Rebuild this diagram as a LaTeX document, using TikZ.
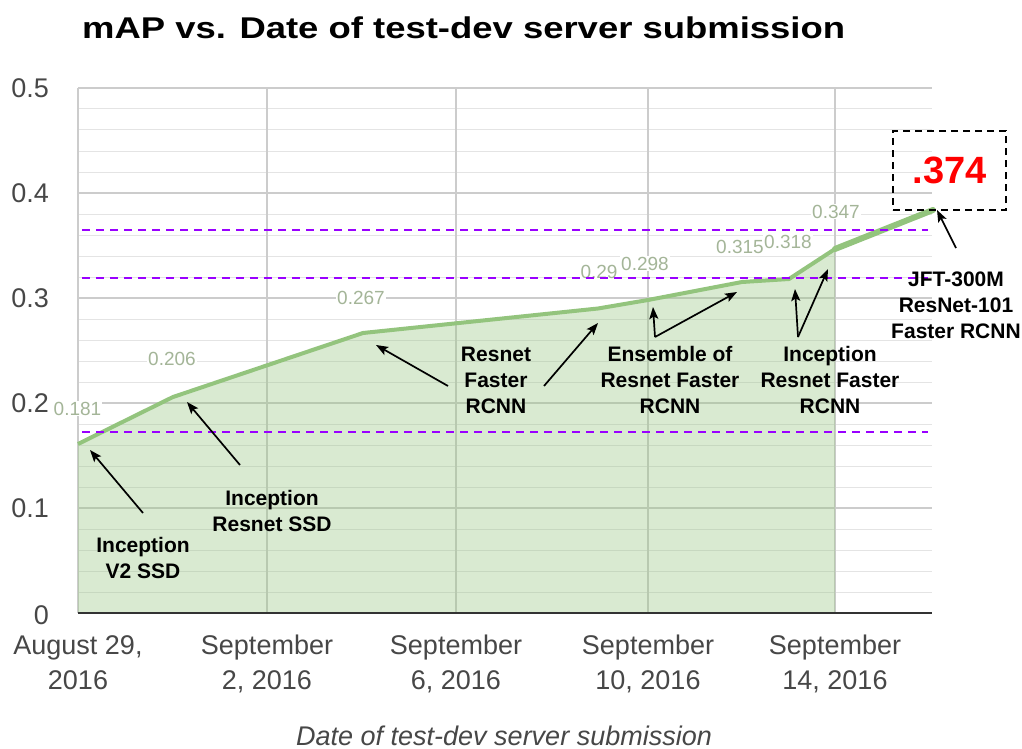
\documentclass[tikz,border=0pt]{standalone}
\usepackage{fontspec}
\setmainfont{Liberation Sans}
\newfontfamily\titlefont[FakeStretch=1.215]{Liberation Sans}
\usetikzlibrary{arrows.meta}

\definecolor{gridmajor}{HTML}{CCCCCC}
\definecolor{gridminor}{HTML}{E4E4E4}
\definecolor{series}{HTML}{93C47D}
\definecolor{valtext}{RGB}{164,181,152}
\definecolor{axistext}{HTML}{474747}
\definecolor{axisline}{HTML}{333333}
\definecolor{guide}{HTML}{9900FF}
\definecolor{bestred}{HTML}{FF0000}

\tikzset{
  vallabel/.style={font=\fontsize{19}{22}\selectfont, text=valtext, fill=white, inner sep=1pt},
  ticklabel/.style={font=\fontsize{27}{35}\selectfont, text=axistext, inner sep=0pt, align=center},
  guideline/.style={guide, line width=1.8pt, dash pattern=on 8pt off 6pt},
  note/.style={font=\bfseries\fontsize{21}{26}\selectfont, align=center, inner sep=0pt},
  conn/.style={-{Stealth[length=12pt,width=9pt,inset=2.5pt]}, line width=1.7pt, black},
}

\begin{document}
\begin{tikzpicture}[x=1pt,y=-1pt]
\useasboundingbox[fill=white] (0,0) rectangle (1022,749);

% title
\node[anchor=base west, inner sep=0pt, font=\titlefont\bfseries\fontsize{30}{36}\selectfont] (title) at (82,39) {mAP vs. Date of test-dev server submission};

% grid: minor lines every 0.02, major every 0.1
\foreach \i in {0,...,24} {
  \draw[gridminor, line width=1pt] (78,{88+21*\i}) -- (932,{88+21*\i});
}
\foreach \i in {0,...,4} {
  \draw[gridmajor, line width=1.2pt] (78,{88+105*\i}) -- (932,{88+105*\i});
}
\foreach \x in {78,267,456,648,835} {
  \draw[gridmajor, line width=1.2pt] (\x,88) -- (\x,613);
}

% data points
\coordinate (p1) at (78,444);
\coordinate (p2) at (173,397);
\coordinate (p3) at (363,333);
\coordinate (p4) at (598,308.5);
\coordinate (p5) at (648,300);
\coordinate (p6) at (742,282);
\coordinate (p7) at (789,279);
\coordinate (p8) at (835,249);
\coordinate (p9) at (933,210);

% area under the series
\fill[series, opacity=0.35] (p1) -- (p2) -- (p3) -- (p4) -- (p5) -- (p6) -- (p7) -- (p8) -- (835,613) -- (78,613) -- cycle;
\draw[series, line width=4pt, line join=round] (p1) -- (p2) -- (p3) -- (p4) -- (p5) -- (p6) -- (p7) -- (p8);
\draw[series, line width=6pt, line cap=round] (p8) -- (p9);

% value labels
\node[vallabel] (v1) at (77.5,408.5) {0.181};
\node[vallabel] (v2) at (172,359) {0.206};
\node[vallabel] (v3) at (361,298) {0.267};
\node[vallabel] (v4) at (599,271.5) {0.29};
\node[vallabel] (v5) at (645,263.5) {0.298};
\node[vallabel] (v6) at (740,246.5) {0.315};
\node[vallabel] (v7) at (788,242) {0.318};
\node[vallabel] (v8) at (836,211.5) {0.347};

% x axis
\draw[axisline, line width=2pt] (78,613) -- (932,613);

% y tick labels
\node[ticklabel, anchor=east] (y5) at (49,88) {0.5};
\node[ticklabel, anchor=east] (y4) at (49,193) {0.4};
\node[ticklabel, anchor=east] (y3) at (49,298) {0.3};
\node[ticklabel, anchor=east] (y2) at (49,403) {0.2};
\node[ticklabel, anchor=east] (y1) at (49,508) {0.1};
\node[ticklabel, anchor=east] (y0) at (49,615) {0};

% x tick labels
\node[ticklabel, anchor=north] (x1) at (78,635) {August 29,\\2016};
\node[ticklabel, anchor=north] (x2) at (267,635) {September\\2, 2016};
\node[ticklabel, anchor=north] (x3) at (456,635) {September\\6, 2016};
\node[ticklabel, anchor=north] (x4) at (648,635) {September\\10, 2016};
\node[ticklabel, anchor=north] (x5) at (835,635) {September\\14, 2016};

% axis title
\node[anchor=base, inner sep=0pt, font=\itshape\fontsize{27}{32}\selectfont, text=axistext] (xtitle) at (504,745) {Date of test-dev server submission};

% reference levels
\draw[guideline] (82,230) -- (928,230);
\draw[guideline] (82,278) -- (928,278);
\draw[guideline] (82,432) -- (928,432);

% best result box
\node[draw=black, line width=2pt, dash pattern=on 7pt off 5pt, minimum width=113pt, minimum height=79pt, inner sep=0pt,
      font=\bfseries\fontsize{38}{44}\selectfont, text=bestred] (best) at (949.5,170.5) {.374};

% annotations
\node[note] (n1) at (143,558) {Inception\\V2 SSD};
\node[note] (n2) at (272,511) {Inception\\Resnet SSD};
\node[note] (n3) at (496,380) {Resnet\\Faster\\RCNN};
\node[note] (n4) at (670,380) {Ensemble of\\Resnet Faster\\RCNN};
\node[note] (n5) at (830,380) {Inception\\Resnet Faster\\RCNN};
\node[note] (n6) at (956,305) {JFT-300M\\ResNet-101\\Faster RCNN};

% arrow ends
\coordinate (s1) at (143,513);  \coordinate (t1) at (90,450);
\coordinate (s2) at (240,465);  \coordinate (t2) at (187,402);
\coordinate (s3) at (448,386);  \coordinate (t3) at (376,345);
\coordinate (s4) at (544,386);  \coordinate (t4) at (598,323);
\coordinate (s5) at (655,337);  \coordinate (t5a) at (653,307); \coordinate (t5b) at (737,292);
\coordinate (s6) at (798,337);  \coordinate (t6a) at (795,289); \coordinate (t6b) at (828,269);
\coordinate (s7) at (956,248);  \coordinate (t7) at (937,210);

\draw[conn] (s1) -- (t1);
\draw[conn] (s2) -- (t2);
\draw[conn] (s3) -- (t3);
\draw[conn] (s4) -- (t4);
\draw[conn] (s5) -- (t5a);
\draw[conn] (s5) -- (t5b);
\draw[conn] (s6) -- (t6a);
\draw[conn] (s6) -- (t6b);
\draw[conn] (s7) -- (t7);
\end{tikzpicture}
\end{document}
